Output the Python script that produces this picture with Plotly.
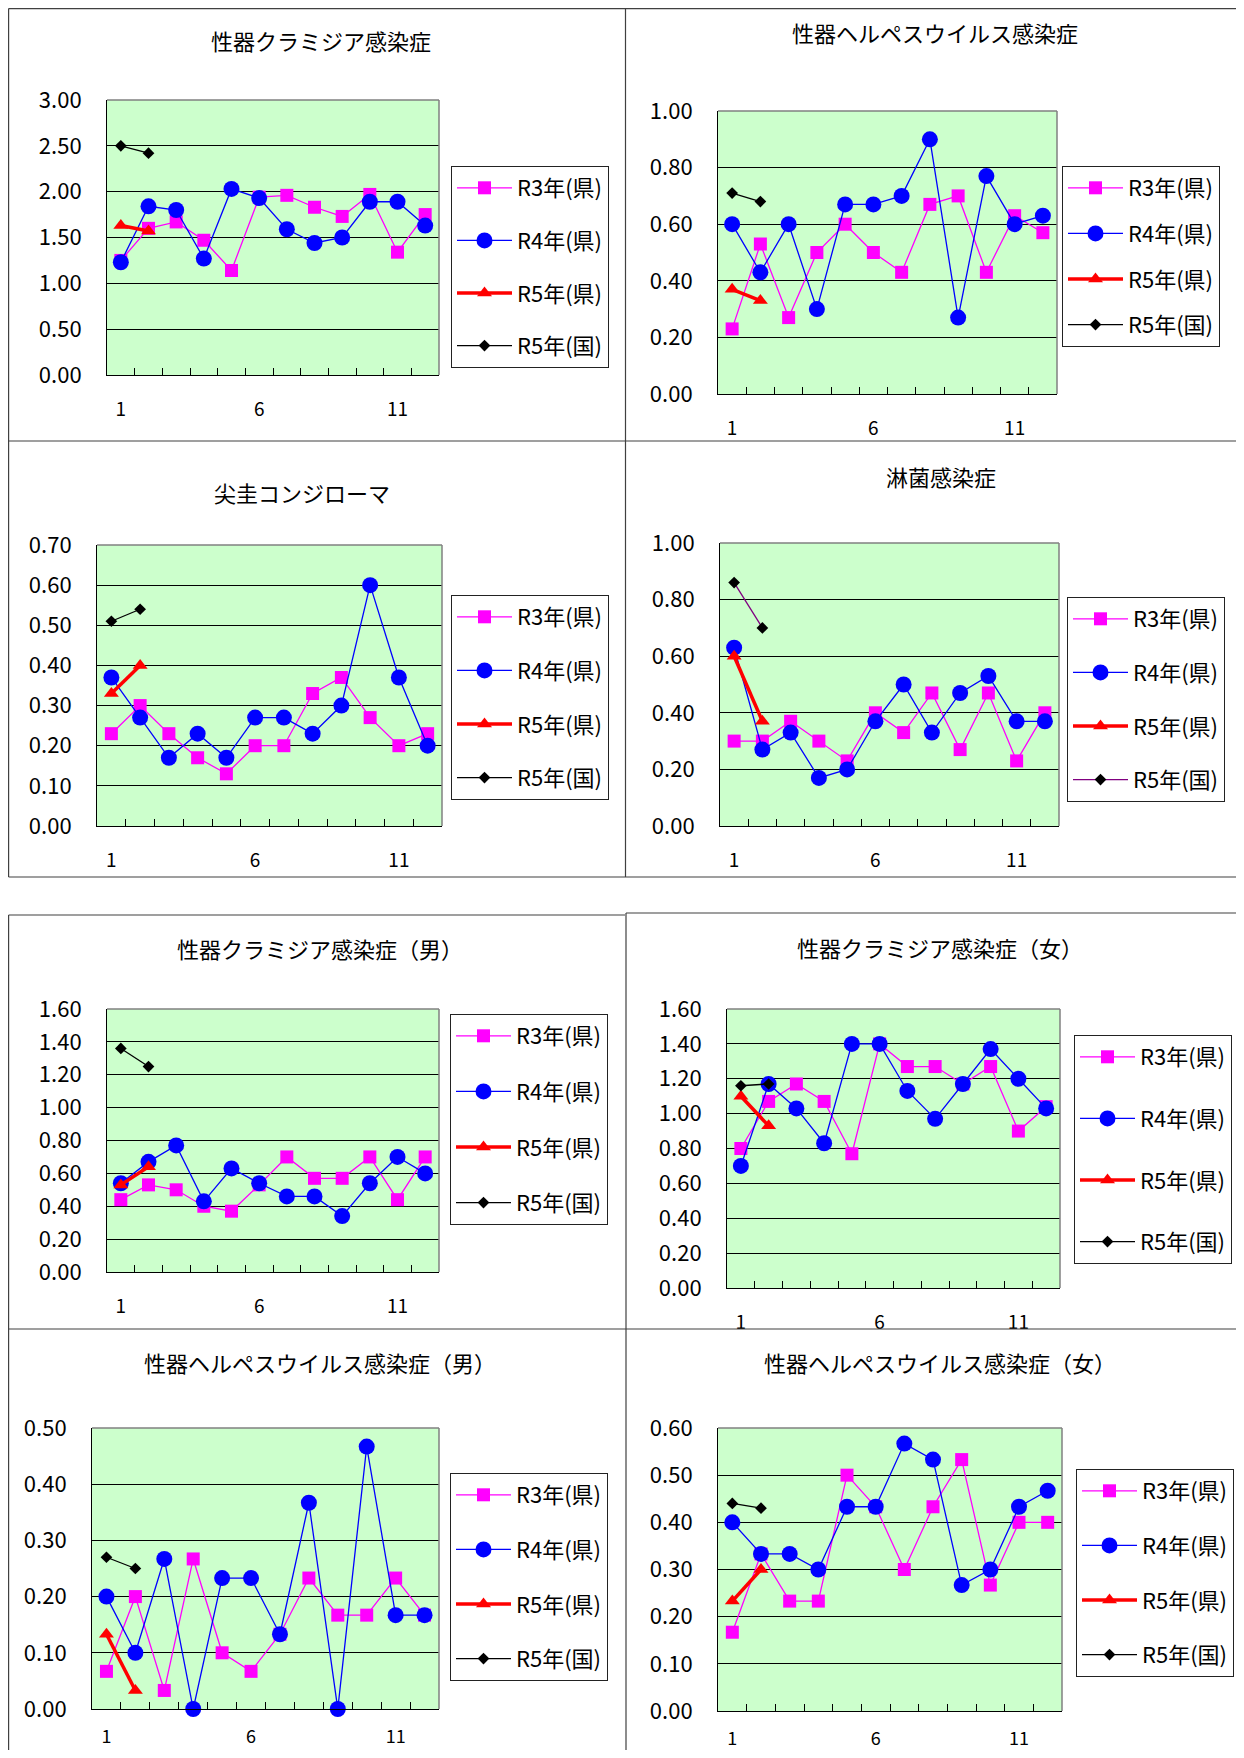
import plotly.graph_objects as go

# ---------------- data ----------------
months = list(range(1, 13))
tick_labels = ["1", "6", "11"]
series_names = ["R3年(県)", "R4年(県)", "R5年(県)", "R5年(国)"]

titles = [
    "性器クラミジア感染症",
    "性器ヘルペスウイルス感染症",
    "尖圭コンジローマ",
    "淋菌感染症",
    "性器クラミジア感染症（男）",
    "性器クラミジア感染症（女）",
    "性器ヘルペスウイルス感染症（男）",
    "性器ヘルペスウイルス感染症（女）",
]

chl_r3 = [1.25, 1.60, 1.67, 1.47, 1.14, 1.94, 1.96, 1.83, 1.73, 1.97, 1.34, 1.75]
chl_r4 = [1.23, 1.84, 1.80, 1.27, 2.03, 1.93, 1.59, 1.44, 1.50, 1.89, 1.89, 1.63]
chl_r5 = [1.63, 1.57]
chl_nat = [2.50, 2.42]

her_r3 = [0.23, 0.53, 0.27, 0.50, 0.60, 0.50, 0.43, 0.67, 0.70, 0.43, 0.63, 0.57]
her_r4 = [0.60, 0.43, 0.60, 0.30, 0.67, 0.67, 0.70, 0.90, 0.27, 0.77, 0.60, 0.63]
her_r5 = [0.37, 0.33]
her_nat = [0.71, 0.68]

con_r3 = [0.23, 0.30, 0.23, 0.17, 0.13, 0.20, 0.20, 0.33, 0.37, 0.27, 0.20, 0.23]
con_r4 = [0.37, 0.27, 0.17, 0.23, 0.17, 0.27, 0.27, 0.23, 0.30, 0.60, 0.37, 0.20]
con_r5 = [0.33, 0.40]
con_nat = [0.51, 0.54]

gon_r3 = [0.30, 0.30, 0.37, 0.30, 0.23, 0.40, 0.33, 0.47, 0.27, 0.47, 0.23, 0.40]
gon_r4 = [0.63, 0.27, 0.33, 0.17, 0.20, 0.37, 0.50, 0.33, 0.47, 0.53, 0.37, 0.37]
gon_r5 = [0.60, 0.37]
gon_nat = [0.86, 0.70]

chm_r3 = [0.44, 0.53, 0.50, 0.40, 0.37, 0.53, 0.70, 0.57, 0.57, 0.70, 0.44, 0.70]
chm_r4 = [0.54, 0.67, 0.77, 0.43, 0.63, 0.54, 0.46, 0.46, 0.34, 0.54, 0.70, 0.60]
chm_r5 = [0.53, 0.64]
chm_nat = [1.36, 1.25]

chf_r3 = [0.80, 1.07, 1.17, 1.07, 0.77, 1.40, 1.27, 1.27, 1.17, 1.27, 0.90, 1.04]
chf_r4 = [0.70, 1.17, 1.03, 0.83, 1.40, 1.40, 1.13, 0.97, 1.17, 1.37, 1.20, 1.03]
chf_r5 = [1.10, 0.93]
chf_nat = [1.16, 1.17]

hem_r3 = [0.067, 0.20, 0.033, 0.267, 0.10, 0.067, 0.133, 0.233, 0.167, 0.167, 0.233, 0.167]
hem_r4 = [0.20, 0.10, 0.267, 0.0, 0.233, 0.233, 0.133, 0.367, 0.0, 0.467, 0.167, 0.167]
hem_r5 = [0.133, 0.033]
hem_nat = [0.27, 0.25]

hef_r3 = [0.167, 0.333, 0.233, 0.233, 0.50, 0.433, 0.30, 0.433, 0.533, 0.267, 0.40, 0.40]
hef_r4 = [0.40, 0.333, 0.333, 0.30, 0.433, 0.433, 0.567, 0.533, 0.267, 0.30, 0.433, 0.467]
hef_r5 = [0.233, 0.30]
hef_nat = [0.44, 0.43]

panel_data = [
    (chl_r3, chl_r4, chl_r5, chl_nat),
    (her_r3, her_r4, her_r5, her_nat),
    (con_r3, con_r4, con_r5, con_nat),
    (gon_r3, gon_r4, gon_r5, gon_nat),
    (chm_r3, chm_r4, chm_r5, chm_nat),
    (chf_r3, chf_r4, chf_r5, chf_nat),
    (hem_r3, hem_r4, hem_r5, hem_nat),
    (hef_r3, hef_r4, hef_r5, hef_nat),
]
y_max = [3.0, 1.0, 0.7, 1.0, 1.6, 1.6, 0.5, 0.6]
y_step = [0.5, 0.2, 0.1, 0.2, 0.2, 0.2, 0.1, 0.1]

# ---------------- layout (page pixels) ----------------
PAGE_W, PAGE_H = 1244, 1758
OFF = 8                      # default body margin of the html page
W, H = PAGE_W - 2 * OFF, PAGE_H - 2 * OFF


def px(x):
    return (x - OFF) / W


def py(y):
    return 1 - (y - OFF) / H


plot_px = [
    (107, 100, 439, 375), (718, 111, 1057, 394),
    (97, 545, 442, 826), (720, 543, 1059, 826),
    (107, 1009, 439, 1272), (727, 1009, 1060, 1288),
    (92, 1428, 439, 1709), (718, 1428, 1062, 1711),
]
legend_px = [(451, 166), (1062, 166), (451, 595), (1067, 597),
             (450, 1014), (1074, 1035), (450, 1473), (1076, 1469)]
legend_gap = [21, 14, 22, 22, 24, 30, 23, 23]
xlabel_standoff = [17, 17, 17, 17, 17, 17, 11, 11]
xlabel_size = [19, 19, 19, 19, 19, 19, 18, 18]
title_px = [(321, 40), (935, 32), (302, 492), (941, 476),
            (320, 948), (940, 947), (320, 1362), (940, 1362)]
nat_line_color = ["black", "black", "black", "#800080", "black", "black", "black", "black"]

FONT = "Noto Sans CJK JP"

fig = go.Figure()
layout = dict(
    width=W, height=H, margin=dict(l=0, r=0, t=0, b=0, autoexpand=False),
    paper_bgcolor="white", plot_bgcolor="#CCFFCC",
    font=dict(family=FONT, color="black"),
    showlegend=True,
)
annotations = []
shapes = []

for i in range(8):
    s = "" if i == 0 else str(i + 1)
    xname, yname = "x" + s, "y" + s
    legname = "legend" + s
    r3, r4, r5, nat = panel_data[i]
    x0, y0, x1, y1 = plot_px[i]

    styles = [
        dict(y=r3, line=dict(color="#FF00FF", width=1.3),
             marker=dict(symbol="square", size=13, color="#FF00FF")),
        dict(y=r4, line=dict(color="#0000FF", width=1.3),
             marker=dict(symbol="circle", size=16, color="#0000FF")),
        dict(y=r5, line=dict(color="#FF0000", width=3.5),
             marker=dict(symbol="triangle-up", size=13, color="#FF0000")),
        dict(y=nat, line=dict(color=nat_line_color[i], width=1.3),
             marker=dict(symbol="diamond", size=9, color="black")),
    ]
    for k, st in enumerate(styles):
        fig.add_trace(go.Scatter(
            x=months[:len(st["y"])], y=st["y"], name=series_names[k],
            mode="lines+markers", line=st["line"], marker=st["marker"],
            xaxis=xname, yaxis=yname, legend=legname,
            legendgroup=f"p{i}_{k}", cliponaxis=False, hoverinfo="x+y",
        ))

    layout["xaxis" + s] = dict(
        domain=[px(x0), px(x1)], anchor=yname, range=[0.5, 12.5],
        tickmode="array", tickvals=[1, 6, 11], ticktext=tick_labels,
        ticks="", showgrid=False, zeroline=False, automargin=False,
        showline=True, linecolor="black", linewidth=1,
        tickfont=dict(size=xlabel_size[i], color="black"),
        ticklabelstandoff=xlabel_standoff[i],
        minor=dict(tickmode="array", tickvals=[m + 0.5 for m in range(1, 12)],
                   ticks="inside", ticklen=7, tickwidth=1, tickcolor="black",
                   showgrid=False),
        fixedrange=True,
    )
    layout["yaxis" + s] = dict(
        domain=[py(y1), py(y0)], anchor=xname,
        range=[0, y_max[i]], tickmode="linear", tick0=0, dtick=y_step[i],
        tickformat=".2f", showgrid=True, gridcolor="black", gridwidth=1,
        zeroline=False, showline=True, linecolor="black", linewidth=1,
        automargin=False,
        ticks="", tickfont=dict(size=22, color="black"), ticklabelstandoff=20,
        fixedrange=True,
    )
    # gray top/right frame of plot area
    shapes.append(dict(type="line", xref=xname + " domain", yref=yname + " domain",
                       x0=0, x1=1, y0=1, y1=1, line=dict(color="#808080", width=1.5), layer="above"))
    shapes.append(dict(type="line", xref=xname + " domain", yref=yname + " domain",
                       x0=1, x1=1, y0=0, y1=1, line=dict(color="#808080", width=1.5), layer="above"))

    lx, ly = legend_px[i]
    layout[legname] = dict(
        x=px(lx), y=py(ly), xanchor="left", yanchor="top",
        bgcolor="white", bordercolor="#222", borderwidth=1,
        font=dict(size=22, family=FONT, color="black"),
        tracegroupgap=legend_gap[i], traceorder="grouped", itemwidth=55,
    )

    tx, ty = title_px[i]
    annotations.append(dict(text=titles[i], x=px(tx), y=py(ty), xref="paper", yref="paper",
                            xanchor="center", yanchor="middle", showarrow=False,
                            font=dict(size=22, family=FONT, color="black")))


# panel borders (page pixel coordinates -> paper)
def hline(y, xa, xb):
    shapes.append(dict(type="line", xref="paper", yref="paper", x0=px(xa), x1=px(xb),
                       y0=py(y), y1=py(y), line=dict(color="#404040", width=1.2)))


def vline(x, ya, yb):
    shapes.append(dict(type="line", xref="paper", yref="paper", x0=px(x), x1=px(x),
                       y0=py(ya), y1=py(yb), line=dict(color="#404040", width=1.2)))


hline(8.6, 8.6, 1244)
hline(441, 8.6, 1244)
hline(877, 8.6, 1244)
hline(915, 8.6, 625)
hline(913, 626, 1244)
hline(1329, 8.6, 1244)
vline(8.6, 8.6, 877)
vline(625.5, 8.6, 877)
vline(8.6, 915, 1329)
vline(626, 913, 1329)
vline(8.6, 1329, 1758)
vline(626, 1329, 1758)

layout["annotations"] = annotations
layout["shapes"] = shapes
fig.update_layout(**layout)
fig.write_html("out.html")
